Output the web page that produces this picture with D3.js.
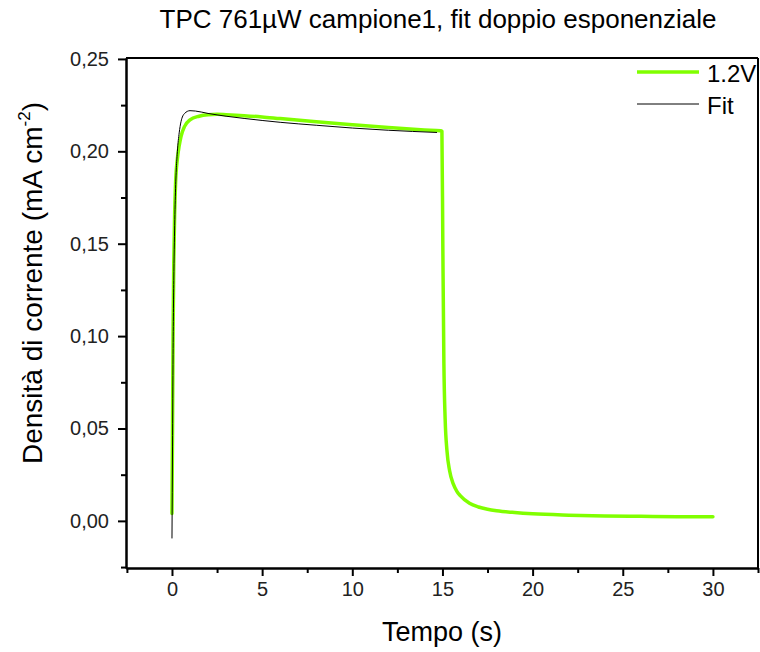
<!DOCTYPE html>
<html>
<head>
<meta charset="utf-8">
<script src="https://cdn.jsdelivr.net/npm/d3@7"></script>
<style>
  body { margin: 0; background: #fff; }
  svg { font-family: "Liberation Sans", Arial, sans-serif; }
</style>
</head>
<body>
<div class="chart-div"></div>
<script>
// measured series, 1.2V
var tData = [0, 0.03, 0.06, 0.1, 0.15, 0.2, 0.3, 0.4, 0.5, 0.7, 1.0, 1.5, 2, 2.5, 3, 4, 5, 6, 8, 10, 12, 14, 14.9,
             14.97, 15.02, 15.08, 15.15, 15.25, 15.4, 15.6, 15.8, 16, 16.5, 17, 17.5, 18, 19, 20, 22, 24, 26, 28, 30];
var iData = [0.004, 0.05, 0.10, 0.14, 0.167, 0.183, 0.196, 0.203, 0.208, 0.2135, 0.2170, 0.2190, 0.2198, 0.2200, 0.2198, 0.2193, 0.2186, 0.2177, 0.2160, 0.2144, 0.2129, 0.2116, 0.2111,
             0.2108, 0.15, 0.085, 0.055, 0.038, 0.027, 0.020, 0.016, 0.0135, 0.0095, 0.0075, 0.0063, 0.0055, 0.0045, 0.0038, 0.0031, 0.0027, 0.0025, 0.0023, 0.0022];

// double exponential fit
var tFit = [0, 0.03, 0.06, 0.1, 0.15, 0.2, 0.3, 0.4, 0.5, 0.7, 1.0, 1.3, 2, 3, 4, 5, 6, 8, 10, 12, 14.7];
var iFit = [-0.0095, 0.04, 0.09, 0.13, 0.16, 0.180, 0.200, 0.210, 0.216, 0.2205, 0.2220, 0.2218, 0.2205, 0.2190, 0.2178, 0.2167, 0.2157, 0.2141, 0.2126, 0.2114, 0.2102];

var xTicks = [0, 5, 10, 15, 20, 25, 30];
var yTicks = [0, 0.05, 0.10, 0.15, 0.20, 0.25];
var seriesNames = ["1.2V", "Fit"];

var W = 760, H = 652;
var m = {left: 126, right: 2, top: 58, bottom: 84};

var svg = d3.select(".chart-div").append("svg")
    .attr("width", W)
    .attr("height", H);

var x = d3.scaleLinear().domain([-2.55, 32.5]).range([m.left, W - m.right]);
var y = d3.scaleLinear().domain([-0.0255, 0.2505]).range([H - m.bottom, m.top]);

var comma = function(d) { return d3.format(".2f")(d).replace(".", ","); };

// minor ticks
var xMinor = d3.range(-2.5, 32.6, 2.5).filter(function(d) { return Math.abs(d % 5) > 0.01; });
var yMinor = d3.range(-0.025, 0.26, 0.025).filter(function(d) { return Math.abs(Math.round(d * 1000) % 50) > 1; });

svg.append("g")
    .attr("transform", "translate(0," + (H - m.bottom) + ")")
    .call(d3.axisBottom(x).tickValues(xTicks).tickSize(8).tickSizeOuter(0).tickPadding(6));
svg.append("g")
    .attr("transform", "translate(0," + (H - m.bottom) + ")")
    .call(d3.axisBottom(x).tickValues(xMinor).tickSize(5).tickSizeOuter(0).tickFormat(""));

svg.append("g")
    .attr("transform", "translate(" + m.left + ",0)")
    .call(d3.axisLeft(y).tickValues(yTicks).tickFormat(comma).tickSize(8).tickSizeOuter(0).tickPadding(9));
svg.append("g")
    .attr("transform", "translate(" + m.left + ",0)")
    .call(d3.axisLeft(y).tickValues(yMinor).tickSize(5).tickSizeOuter(0).tickFormat(""));

svg.selectAll(".domain").attr("stroke", "#000").attr("stroke-width", 2);
svg.selectAll(".tick line").attr("stroke", "#000").attr("stroke-width", 2);
svg.selectAll(".tick text").attr("fill", "#222").style("font-size", "20px");

// top & right border
svg.append("line").attr("x1", m.left).attr("x2", W - m.right).attr("y1", m.top).attr("y2", m.top)
    .attr("stroke", "#000").attr("stroke-width", 2);
svg.append("line").attr("x1", W - m.right).attr("x2", W - m.right).attr("y1", m.top).attr("y2", H - m.bottom)
    .attr("stroke", "#000").attr("stroke-width", 2);

var line = d3.line().curve(d3.curveMonotoneX);

svg.append("path")
    .datum(d3.zip(tData, iData))
    .attr("d", line.x(function(d) { return x(d[0]); }).y(function(d) { return y(d[1]); }))
    .attr("fill", "none")
    .attr("stroke", "#80ff00")
    .attr("stroke-width", 3.5)
    .attr("stroke-linecap", "round")
    .attr("stroke-linejoin", "round");

svg.append("path")
    .datum(d3.zip(tFit, iFit))
    .attr("d", line)
    .attr("fill", "none")
    .attr("stroke", "#000")
    .attr("stroke-width", 1);

// legend
var leg = svg.append("g").attr("transform", "translate(637,72)");
leg.append("line").attr("x1", 0).attr("x2", 62).attr("y1", 0).attr("y2", 0)
    .attr("stroke", "#80ff00").attr("stroke-width", 3.5);
leg.append("line").attr("x1", 0).attr("x2", 62).attr("y1", 32).attr("y2", 32)
    .attr("stroke", "#000").attr("stroke-width", 1);
leg.selectAll("text").data(seriesNames).enter().append("text")
    .attr("x", 70).attr("y", function(d, i) { return i * 32 + 9.5; })
    .style("font-size", "24px")
    .text(function(d) { return d; });

// titles
svg.append("text")
    .attr("x", 438).attr("y", 28)
    .attr("text-anchor", "middle")
    .style("font-size", "26px")
    .text("TPC 761µW campione1, fit doppio esponenziale");

svg.append("text")
    .attr("x", 442).attr("y", 641)
    .attr("text-anchor", "middle")
    .style("font-size", "27px")
    .text("Tempo (s)");

var yl = svg.append("text")
    .attr("transform", "translate(42,283) rotate(-90)")
    .attr("text-anchor", "middle")
    .style("font-size", "28px");
yl.append("tspan").text("Densità di corrente (mA cm");
yl.append("tspan").attr("dy", -12).style("font-size", "17px").text("-2");
yl.append("tspan").attr("dy", 12).text(")");
</script>
</body>
</html>
